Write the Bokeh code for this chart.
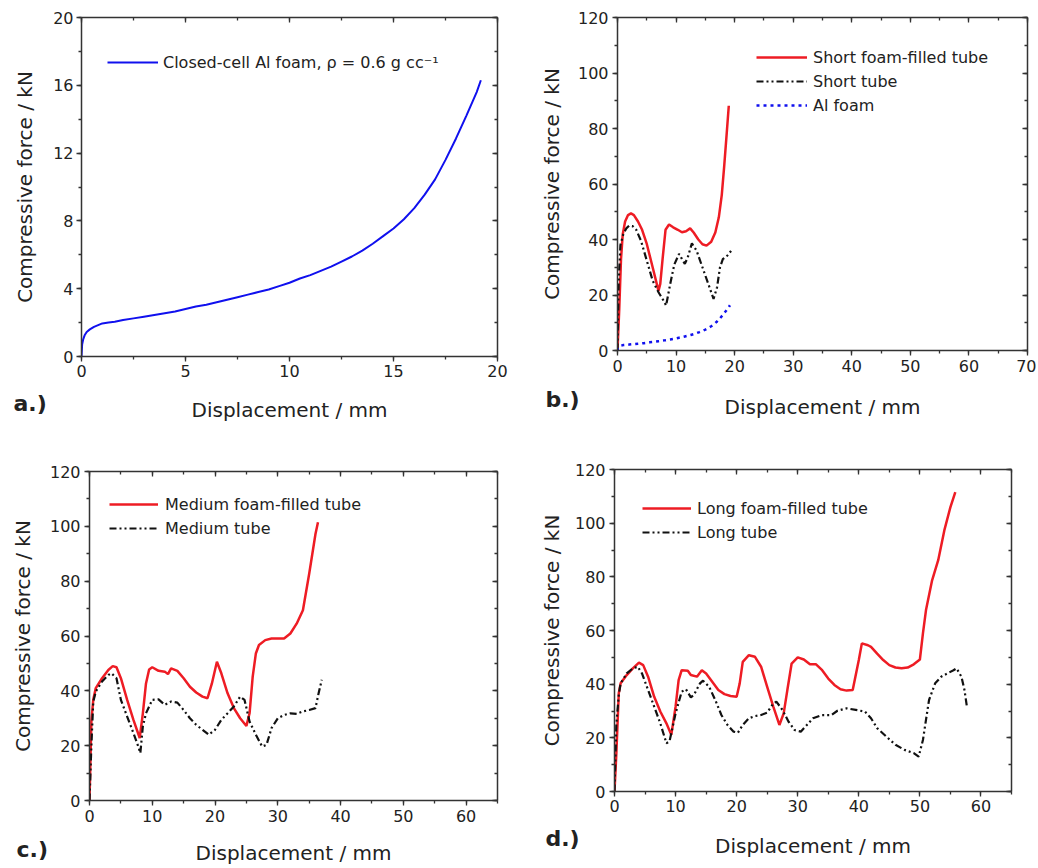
from bokeh.plotting import figure
from bokeh.models import (Range1d, LinearAxis, SingleIntervalTicker, Legend, LegendItem, Title)
from bokeh.layouts import column, row
from bokeh.embed import file_html
from bokeh.resources import INLINE

FONT = "DejaVu Sans"

# ---------------- data ----------------
# a.) closed-cell Al foam (also the "Al foam" curve of b.)
foam_x = [0, 0.03, 0.08, 0.15, 0.25, 0.4, 0.6, 0.8, 1.0, 1.3, 1.6, 2.0, 2.5, 3.0, 3.5, 4.0, 4.5, 5.0, 5.5, 6.0,
          6.5, 7.0, 7.5, 8.0, 8.5, 9.0, 9.5, 10.0, 10.5, 11.0, 11.5, 12.0, 12.5, 13.0, 13.5, 14.0, 14.5, 15.0,
          15.5, 16.0, 16.5, 17.0, 17.5, 18.0, 18.5, 19.0, 19.2]
foam_y = [0, 0.7, 1.0, 1.25, 1.45, 1.6, 1.75, 1.85, 1.95, 2.0, 2.05, 2.15, 2.25, 2.35, 2.45, 2.55, 2.65, 2.8, 2.95,
          3.05, 3.2, 3.35, 3.5, 3.65, 3.8, 3.95, 4.15, 4.35, 4.6, 4.8, 5.05, 5.3, 5.6, 5.9, 6.25, 6.65, 7.1, 7.55,
          8.1, 8.75, 9.55, 10.45, 11.6, 12.85, 14.2, 15.6, 16.3]

# b.) short tubes
sft_x = [0, 0.3, 0.6, 0.9, 1.3, 1.8, 2.3, 2.8, 3.5, 4.2, 5.0, 6.0, 7.0, 7.3, 7.7, 8.2, 8.8, 9.5, 10.3, 11.0,
         11.7, 12.4, 13.0, 13.8, 14.5, 15.2, 16.0, 16.7, 17.3, 17.8, 18.2, 18.6, 19.0]
sft_y = [0, 15, 33, 42, 46.5, 48.8, 49.4, 48.8, 46.5, 43.5, 38.4, 30, 21.5, 24, 33, 43.5, 45.4, 44.4, 43.5, 42.6,
         43, 44, 42.5, 40, 38.3, 37.8, 39.2, 42.5, 48, 56, 66, 77, 88.2]
st_x = [0, 0.2, 0.5, 1.0, 1.5, 2.0, 2.6, 3.2, 4.0, 5.0, 6.0, 7.0, 8.0, 8.3, 9.0, 9.7, 10.5, 11.0, 11.5, 12.0,
        12.7, 13.5, 14.5, 15.5, 16.4, 17.0, 17.5, 18.0, 18.5, 19.0, 19.5]
st_y = [0, 25, 38, 42, 44, 45, 44.8, 43.5, 39.6, 32.4, 25.2, 21, 17.5, 16.2, 24, 31, 34.8, 33, 31.2, 33.6,
        38.6, 36, 30, 24, 18.6, 22.8, 30, 33, 33.6, 34.8, 36.2]

# c.) medium tubes
mft_x = [0, 0.3, 0.6, 1.0, 2.0, 3.0, 3.7, 4.3, 5.0, 6.0, 7.0, 8.0, 8.5, 9.0, 9.5, 10.0, 11.0, 12.0, 12.5, 13.0,
         14.0, 15.0, 16.0, 17.0, 18.0, 18.8, 19.5, 20.3, 21.0, 22.0, 23.0, 24.0, 25.0, 25.5, 26.0, 26.5, 27.0,
         28.0, 29.0, 30.0, 31.0, 32.0, 33.0, 34.0, 35.0, 36.0, 36.4]
mft_y = [0, 29, 36.7, 41, 44.6, 47.6, 49, 48.6, 44.6, 36.7, 29.4, 22.8, 31.8, 42.7, 47.8, 48.6, 47.3, 47, 46.1,
         48.2, 47.3, 44.6, 41.5, 39.4, 37.9, 37.3, 42.7, 50.6, 46.4, 39.1, 33.7, 30, 27.2, 31.8, 45.2, 53.6, 56.7,
         58.5, 59.1, 59.1, 59.1, 60.9, 64.5, 69.4, 82.7, 97.2, 101.5]
mt_x = [0, 0.3, 0.6, 1.0, 2.0, 3.0, 3.5, 4.3, 5.0, 6.0, 7.0, 7.8, 8.1, 8.5, 9.0, 10.0, 11.0, 12.0, 13.0, 14.0,
        15.0, 16.0, 17.0, 18.0, 19.0, 20.0, 21.0, 22.0, 23.0, 24.0, 24.7, 25.5, 26.5, 27.5, 28.2, 29.0, 30.0,
        31.0, 32.0, 33.0, 34.0, 35.0, 36.0, 36.5, 37.0]
mt_y = [0, 20, 36, 39.7, 43.4, 45.8, 46.4, 44.6, 36.7, 30.6, 24.6, 19.5, 17.3, 27, 31.8, 36.7, 36.9, 34.9, 36.1,
        35.7, 33, 30, 27.6, 25.8, 24, 25.8, 29.4, 31.8, 34.3, 37.9, 36.7, 28.8, 24, 19.7, 20.3, 26.4, 30, 31.2,
        31.8, 31.6, 32.5, 33, 33.7, 39.1, 44]

# d.) long tubes
lft_x = [0, 0.3, 0.7, 1.0, 2.0, 3.0, 4.0, 4.7, 5.5, 6.5, 7.5, 8.5, 9.3, 10.0, 10.5, 11.0, 12.0, 12.5, 13.5, 14.3,
         15.0, 16.0, 17.0, 18.0, 19.0, 20.0, 20.5, 21.0, 22.0, 23.0, 24.0, 25.0, 26.0, 27.0, 27.7, 28.3, 29.0,
         30.0, 31.0, 32.0, 33.0, 34.0, 35.0, 36.0, 37.0, 38.0, 39.0, 40.0, 40.5, 41.5, 42.0, 43.0, 44.0, 45.0,
         46.0, 47.0, 48.0, 49.0, 50.0, 50.5, 51.0, 52.0, 53.0, 54.0, 55.0, 55.8]
lft_y = [0, 14, 36.6, 40.3, 43.4, 45.9, 48, 47.1, 42.8, 35.3, 29.8, 25.4, 21.1, 31.6, 41.5, 45.2, 45, 43.4, 42.8,
         45.2, 44, 40.9, 37.8, 36.3, 35.6, 35.3, 40.3, 48.3, 50.8, 50.2, 46.5, 39, 31.6, 24.8, 29.1, 37.8, 47.7,
         50, 49.2, 47.4, 47.4, 45.2, 42.1, 39.7, 38.1, 37.6, 37.8, 49, 55.2, 54.5, 53.9, 51.4, 49, 47.1, 46.2,
         45.9, 46.2, 47.4, 49.2, 58.9, 67.6, 78.7, 86.2, 97.3, 106, 111.6]
lt_x = [0, 0.3, 0.7, 1.0, 2.0, 3.0, 3.8, 4.5, 5.5, 6.5, 7.5, 8.5, 9.0, 10.0, 11.0, 11.7, 12.5, 13.0, 14.0, 14.5,
        15.5, 16.5, 17.5, 18.5, 19.5, 20.2, 21.0, 22.0, 23.0, 24.0, 25.0, 26.0, 26.5, 27.5, 28.5, 29.5, 30.5,
        31.5, 32.5, 34.0, 35.5, 36.5, 38.0, 39.5, 41.0, 42.0, 43.0, 44.5, 46.0, 47.5, 49.0, 49.8, 50.5, 51.0,
        51.5, 52.5, 53.5, 54.5, 55.5, 56.0, 56.8, 57.3, 57.7]
lt_y = [0, 25, 36, 40.3, 44, 45.9, 46.5, 44, 37.8, 31.6, 25.4, 18, 18.6, 29.1, 37.2, 38.1, 35.1, 36, 40.3, 41.3,
        39, 34.1, 28.5, 24.8, 22.3, 21.9, 24.8, 27.3, 28.1, 28.5, 29.4, 32.8, 33.5, 30.4, 26, 22.9, 22.3, 24.8,
        27.3, 28.5, 28.5, 30.1, 31, 30.4, 29.8, 27.3, 23.6, 20.5, 17.4, 15.5, 14.3, 13, 19.2, 26.7, 34.1, 40.3,
        42.8, 44, 45.2, 45.9, 42.8, 37.8, 31.6]

X_LABEL = "Displacement / mm"
Y_LABEL = "Compressive force / kN"

RED = "#ee1c24"
BLACK = "#111111"
BLUE = "#1010ee"
AXIS_C = "#333333"
TEXT_C = "#222222"
DASHDOTDOT = "7 3 2 3 2 3"


def style_axis(ax, ticker, outward):
    ax.ticker = ticker
    ax.axis_line_color = AXIS_C
    ax.axis_line_width = 1.5
    ax.major_tick_line_color = AXIS_C
    ax.minor_tick_line_color = AXIS_C
    ax.major_tick_line_width = 1.3
    ax.minor_tick_line_width = 1.3
    if outward:
        ax.major_tick_out = 5
        ax.major_tick_in = 0
        ax.minor_tick_out = 3
        ax.minor_tick_in = 0
    else:
        ax.major_tick_out = 0
        ax.major_tick_in = 5
        ax.minor_tick_out = 0
        ax.minor_tick_in = 3
    ax.major_label_text_font = FONT
    ax.major_label_text_color = TEXT_C
    ax.axis_label_text_font = FONT
    ax.axis_label_text_font_style = "normal"
    ax.axis_label_text_color = TEXT_C


def make_fig(width, height, mbl, mbr, mbt, mbb, xmax, ymax, xint, yint, ylab_sd, xlab_sd, tick_sd_y, tick_sd_x):
    p = figure(width=width, height=height, output_backend="svg", toolbar_location=None,
               x_range=Range1d(0, xmax), y_range=Range1d(0, ymax),
               min_border_left=mbl, min_border_right=mbr, min_border_top=mbt, min_border_bottom=mbb)
    p.grid.visible = False
    p.outline_line_color = None
    p.background_fill_color = "white"
    p.border_fill_color = "white"
    xa = p.xaxis[0]
    ya = p.yaxis[0]
    style_axis(xa, SingleIntervalTicker(interval=xint, num_minor_ticks=2), True)
    style_axis(ya, SingleIntervalTicker(interval=yint, num_minor_ticks=2), True)
    xa.axis_label = X_LABEL
    ya.axis_label = Y_LABEL
    xa.axis_label_text_font_size = "20px"
    ya.axis_label_text_font_size = "20px"
    xa.major_label_text_font_size = "16px"
    ya.major_label_text_font_size = "16px"
    xa.major_label_standoff = tick_sd_x
    ya.major_label_standoff = tick_sd_y
    xa.axis_label_standoff = xlab_sd
    ya.axis_label_standoff = ylab_sd
    top = LinearAxis()
    right = LinearAxis()
    style_axis(top, SingleIntervalTicker(interval=xint, num_minor_ticks=2), False)
    style_axis(right, SingleIntervalTicker(interval=yint, num_minor_ticks=2), False)
    for ax in (top, right):
        ax.major_label_text_font_size = "0px"
        ax.major_label_text_color = None
        ax.major_label_standoff = 0
    p.add_layout(top, "above")
    p.add_layout(right, "right")
    return p


def add_legend(p, items, x, y, glyph_w, standoff):
    leg = Legend(items=[LegendItem(label=lab, renderers=[r]) for lab, r in items],
                 location=(x, y), orientation="vertical",
                 glyph_width=glyph_w, glyph_height=24, label_height=24, label_standoff=standoff,
                 spacing=0, padding=0, margin=0,
                 background_fill_alpha=0, border_line_color=None,
                 label_text_font=FONT, label_text_font_size="16px", label_text_color=TEXT_C)
    p.add_layout(leg)


def add_letter_title(p, letter, offset, standoff):
    p.add_layout(Title(text=letter + ".)", align="left", offset=offset, standoff=standoff,
                       vertical_align="top", text_font=FONT, text_font_size="22px",
                       text_font_style="bold", text_color=TEXT_C), "below")


# ---- a.)
pa = make_fig(520, 430, 81, 23, 17, 74, 20, 20, 5, 4, 13, 18, 3, 3)
ra = pa.line(foam_x, foam_y, line_color=BLUE, line_width=2)
add_legend(pa, [("Closed-cell Al foam, ρ = 0.6 g cc⁻¹", ra)], 26, 282, 51, 5)
add_letter_title(pa, "a", -68, -68)

# ---- b.)
pb = make_fig(516, 430, 97, 9, 17, 80, 70, 120, 10, 20, 11, 20, 4, 4)
rb1 = pb.line(sft_x, sft_y, line_color=RED, line_width=2.5)
rb2 = pb.line(st_x, st_y, line_color=BLACK, line_width=2.2, line_dash=DASHDOTDOT)
rb3 = pb.line(foam_x, foam_y, line_color=BLUE, line_width=2.5, line_dash="3 4")
add_legend(pb, [("Short foam-filled tube", rb1), ("Short tube", rb2), ("Al foam", rb3)], 139, 233, 51, 6)
add_letter_title(pb, "b", -72, -70)

# ---- c.)
pc = make_fig(520, 437, 89, 23, 41, 66, 65, 120, 10, 20, 12, 16, 4, 4)
rc1 = pc.line(mft_x, mft_y, line_color=RED, line_width=2.5)
rc2 = pc.line(mt_x, mt_y, line_color=BLACK, line_width=2.2, line_dash=DASHDOTDOT)
add_legend(pc, [("Medium foam-filled tube", rc1), ("Medium tube", rc2)], 20, 260, 49, 7)
add_letter_title(pc, "c", -73, -62)

# ---- d.)
pd_ = make_fig(516, 437, 94, 25, 39, 76, 65, 120, 10, 20, 8, 19, 4, 3)
rd1 = pd_.line(lft_x, lft_y, line_color=RED, line_width=2.5)
rd2 = pd_.line(lt_x, lt_y, line_color=BLACK, line_width=2.2, line_dash=DASHDOTDOT)
add_legend(pd_, [("Long foam-filled tube", rd1), ("Long tube", rd2)], 28, 247, 49, 6)
add_letter_title(pd_, "d", -69, -70)

layout = column(row(column(pa), column(pb)), row(column(pc), column(pd_)))
open("out.html", "w").write(file_html(layout, INLINE))
